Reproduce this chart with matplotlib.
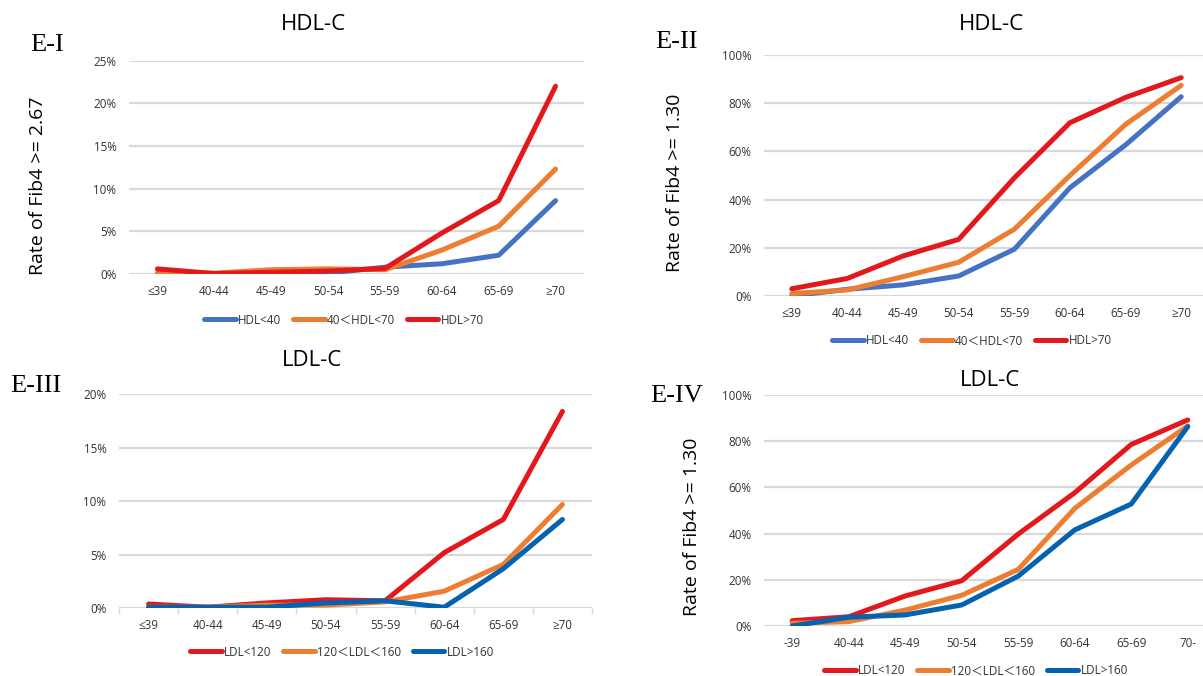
import matplotlib
matplotlib.use('Agg')
import matplotlib.pyplot as plt
from matplotlib.ticker import FuncFormatter, FixedLocator

W, H = 1203, 676

ages = ['≤39', '40-44', '45-49', '50-54', '55-59', '60-64', '65-69', '≥70']
ages_iv = ['-39', '40-44', '45-49', '50-54', '55-59', '60-64', '65-69', '70-']

hdl_labels = ['HDL<40', '40＜HDL<70', 'HDL>70']
ldl_labels = ['LDL<120', '120＜LDL＜160', 'LDL>160']

# rate of Fib4 >= 2.67 (%) by HDL group
e1_hdl_lt40 = [0.1, 0.0, 0.1, 0.1, 0.8, 1.2, 2.2, 8.6]
e1_hdl_mid = [0.1, 0.1, 0.5, 0.6, 0.5, 2.8, 5.6, 12.3]
e1_hdl_gt70 = [0.6, 0.05, 0.2, 0.35, 0.65, 4.8, 8.6, 22.0]

# rate of Fib4 >= 1.30 (%) by HDL group
e2_hdl_lt40 = [0.0, 2.8, 4.6, 8.3, 19.4, 44.9, 62.7, 82.7]
e2_hdl_mid = [1.0, 2.5, 8.0, 14.0, 27.7, 50.0, 71.2, 87.4]
e2_hdl_gt70 = [3.0, 7.3, 16.6, 23.5, 49.0, 71.9, 82.4, 90.6]

# rate of Fib4 >= 2.67 (%) by LDL group
e3_ldl_lt120 = [0.4, 0.1, 0.5, 0.8, 0.7, 5.2, 8.3, 18.4]
e3_ldl_mid = [0.1, 0.1, 0.3, 0.3, 0.6, 1.6, 4.1, 9.7]
e3_ldl_gt160 = [0.1, 0.1, 0.1, 0.5, 0.7, 0.1, 3.7, 8.3]

# rate of Fib4 >= 1.30 (%) by LDL group
e4_ldl_lt120 = [2.3, 4.0, 13.0, 19.6, 39.8, 57.7, 78.6, 89.2]
e4_ldl_mid = [1.2, 1.9, 6.9, 13.3, 24.5, 50.9, 69.7, 86.6]
e4_ldl_gt160 = [0.0, 3.8, 4.8, 9.1, 21.6, 41.6, 52.8, 86.3]

BLUE_H = '#4472C4'
ORANGE = '#ED7D31'
RED = '#E3181C'
BLUE_L = '#0462B0'
GRID = '#D9D9D9'
TXT = '#333333'

SANS = ['Open Sans', 'Noto Sans CJK JP', 'DejaVu Sans']
SERIF = ['Liberation Serif', 'DejaVu Serif']
SMALL = 8.4

fig = plt.figure(figsize=(W / 100, H / 100), dpi=100)


def px_axes(x0, x1, ytop, ybot):
    return fig.add_axes([x0 / W, 1 - ybot / H, (x1 - x0) / W, (ybot - ytop) / H])


def panel(box, cats, series, ymax, ystep, ticks_between=False):
    ax = px_axes(*box)
    x = range(len(cats))
    lines = []
    for vals, c in series:
        ln, = ax.plot(x, [v / 100 for v in vals], color=c, lw=3.6,
                      solid_capstyle='round', solid_joinstyle='round', zorder=3)
        lines.append(ln)
    ax.set_xlim(-0.5, len(cats) - 0.5)
    ax.set_ylim(0, ymax)
    yt = [i * ystep for i in range(int(round(ymax / ystep)) + 1)]
    ax.yaxis.set_major_locator(FixedLocator(yt))
    ax.yaxis.set_major_formatter(FuncFormatter(lambda v, p: f'{v * 100:.0f}%'))
    ax.grid(axis='y', color=GRID, lw=1.6, zorder=0)
    ax.set_axisbelow(True)
    for s in ax.spines.values():
        s.set_visible(False)
    ax.set_xticks(list(x))
    ax.set_xticklabels(cats, fontsize=SMALL, color=TXT, family=SANS)
    for t in ax.get_yticklabels():
        t.set_fontsize(SMALL)
        t.set_color(TXT)
        t.set_family(SANS)
    ax.tick_params(axis='x', length=0, pad=8)
    ax.tick_params(axis='y', length=0, pad=9)
    if ticks_between:
        ax.set_xticks([i - 0.5 for i in range(len(cats) + 1)], minor=True)
        ax.tick_params(axis='x', which='minor', length=4, width=1, color=GRID)
    return ax, lines


def legend(lines, labels, xc, yc):
    fig.legend(lines, labels, loc='center', bbox_to_anchor=(xc / W, 1 - yc / H),
               ncol=3, frameon=False, handlelength=2.7, handletextpad=0.2,
               columnspacing=1.0, prop={'family': SANS, 'size': SMALL},
               labelcolor=TXT)


# E-I
ax1, l1 = panel((129, 584, 60.7, 274), ages,
                [(e1_hdl_lt40, BLUE_H), (e1_hdl_mid, ORANGE), (e1_hdl_gt70, RED)],
                ymax=0.25, ystep=0.05)
legend(l1, hdl_labels, 344, 320)

# E-II
ax2, l2 = panel((764, 1209, 55, 296), ages,
                [(e2_hdl_lt40, BLUE_H), (e2_hdl_mid, ORANGE), (e2_hdl_gt70, RED)],
                ymax=1.0, ystep=0.2)
legend(l2, hdl_labels, 972, 341)

# E-III
ax3, l3 = panel((119, 592, 394.3, 608.3), ages,
                [(e3_ldl_lt120, RED), (e3_ldl_mid, ORANGE), (e3_ldl_gt160, BLUE_L)],
                ymax=0.20, ystep=0.05, ticks_between=True)
legend(l3, ldl_labels, 342, 652)

# E-IV
ax4, l4 = panel((764, 1216, 395, 626), ages_iv,
                [(e4_ldl_lt120, RED), (e4_ldl_mid, ORANGE), (e4_ldl_gt160, BLUE_L)],
                ymax=1.0, ystep=0.2)
legend(l4, ldl_labels, 976, 671)

# titles
for txt, xc, yc in [('HDL-C', 313, 24), ('HDL-C', 991, 24),
                    ('LDL-C', 312, 361), ('LDL-C', 990, 380)]:
    fig.text(xc / W, 1 - yc / H, txt, ha='center', va='center',
             fontsize=16, family=SANS, color='black')

# panel tags
for txt, x0, yc in [('E-I', 30, 45), ('E-II', 655, 42),
                    ('E-III', 10, 386), ('E-IV', 650, 396)]:
    fig.text(x0 / W, 1 - yc / H, txt, ha='left', va='center',
             fontsize=19, family=SERIF, color='black')

# y axis titles
for txt, xc, yc in [('Rate of Fib4 >= 2.67', 38, 186),
                    ('Rate of Fib4 >= 1.30', 675, 183),
                    ('Rate of Fib4 >= 1.30', 692, 527)]:
    fig.text(xc / W, 1 - yc / H, txt, ha='center', va='center', rotation=90,
             fontsize=14, family=SANS, color='black')

fig.savefig('out.png', dpi=100)
